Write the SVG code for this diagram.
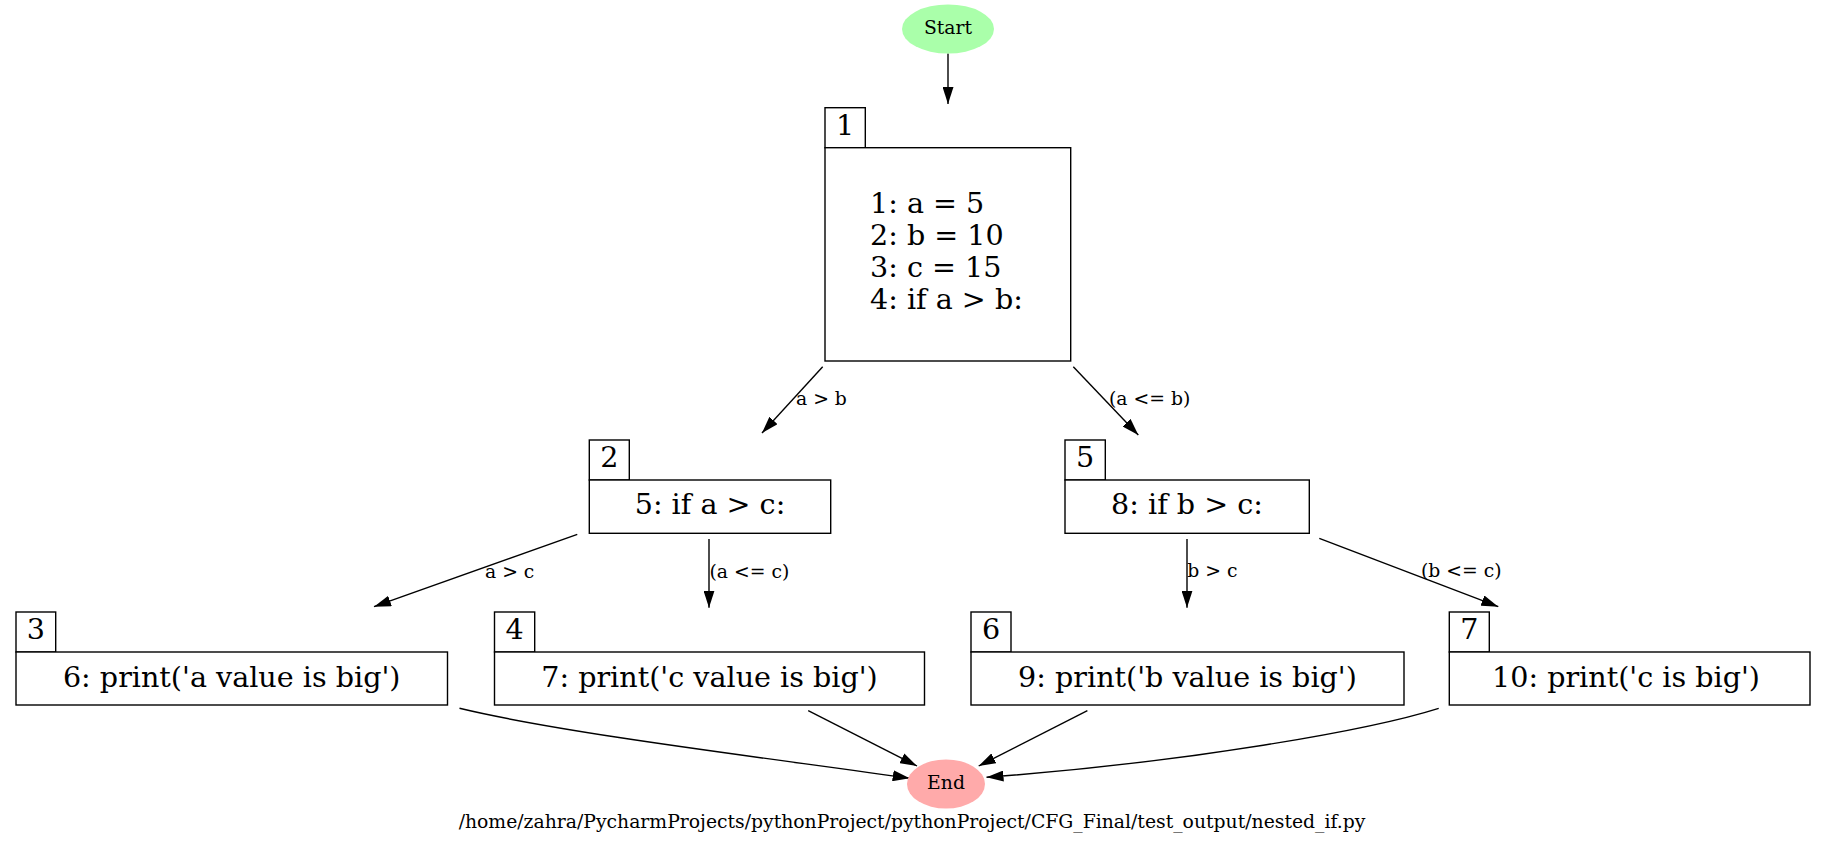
<svg xmlns="http://www.w3.org/2000/svg" width="1826" height="844" viewBox="0 0 1826 844">
<style>
text{font-family:"DejaVu Serif","Liberation Serif",serif;fill:#000}
.n{font-size:28.6px}
.s{font-size:18.8px}
.m{text-anchor:middle}
.b{fill:#fff;stroke:#000;stroke-width:1.4}
.e{fill:none;stroke:#000;stroke-width:1.4;marker-end:url(#ah)}
</style>
<defs>
<marker id="ah" markerUnits="userSpaceOnUse" viewBox="0 0 17 11" refX="17" refY="5.5" markerWidth="17" markerHeight="11" orient="auto">
<path d="M0,0 L17,5.5 L0,11 z" fill="#000"/>
</marker>
</defs>
<rect width="1826" height="844" fill="#fff"/>
<g id="edges">
<path class="e" d="M948,53.5 L948,104"/>
<path class="e" d="M822.7,366.7 L762,433"/>
<path class="e" d="M1073.3,366.7 L1138.3,435"/>
<path class="e" d="M577.3,534.3 L374,606.7"/>
<path class="e" d="M709,539 L709,607.7"/>
<path class="e" d="M1187,539 L1187,607.7"/>
<path class="e" d="M1319.3,538.3 L1498.3,606.7"/>
<path class="e" d="M459.5,708.3 C570,735 800,762 909.7,778.3"/>
<path class="e" d="M808.2,710.7 L917,766"/>
<path class="e" d="M1087.4,710.7 L978.7,766"/>
<path class="e" d="M1438.7,708.3 C1370,730 1190,762 986.5,777.3"/>
<text class="s" x="796" y="405">a &gt; b</text>
<text class="s" x="1109" y="405">(a &lt;= b)</text>
<text class="s" x="485" y="578">a &gt; c</text>
<text class="s" x="709.5" y="578">(a &lt;= c)</text>
<text class="s" x="1187.3" y="577">b &gt; c</text>
<text class="s" x="1421" y="577">(b &lt;= c)</text>
</g>
<g id="start">
<ellipse cx="948" cy="29" rx="46" ry="24.5" fill="#aaffaa"/>
<text class="s m" x="948" y="33.5">Start</text>
</g>
<g id="node1">
<rect class="b" x="825" y="107.7" width="40.3" height="40"/>
<text class="n m" x="845.2" y="135">1</text>
<rect class="b" x="825" y="147.7" width="245.7" height="213.3"/>
<text class="n" x="870" y="213">1: a = 5</text>
<text class="n" x="870" y="245">2: b = 10</text>
<text class="n" x="870" y="277">3: c = 15</text>
<text class="n" x="870" y="309">4: if a &gt; b:</text>
</g>
<g id="node2">
<rect class="b" x="589.3" y="440" width="40" height="40"/>
<text class="n m" x="609.3" y="467.3">2</text>
<rect class="b" x="589.3" y="480" width="241.4" height="53.3"/>
<text class="n m" x="710" y="514.3">5: if a &gt; c:</text>
</g>
<g id="node5">
<rect class="b" x="1065" y="440" width="40.3" height="40"/>
<text class="n m" x="1085.2" y="467.3">5</text>
<rect class="b" x="1065" y="480" width="244.3" height="53.3"/>
<text class="n m" x="1187" y="514.3">8: if b &gt; c:</text>
</g>
<g id="node3">
<rect class="b" x="16" y="612" width="39.7" height="40"/>
<text class="n m" x="35.9" y="639.3">3</text>
<rect class="b" x="16" y="652" width="431.5" height="53"/>
<text class="n m" x="231.7" y="686.7">6: print('a value is big')</text>
</g>
<g id="node4">
<rect class="b" x="494.5" y="612" width="40.2" height="40"/>
<text class="n m" x="514.6" y="639.3">4</text>
<rect class="b" x="494.5" y="652" width="430" height="53"/>
<text class="n m" x="709.5" y="686.7">7: print('c value is big')</text>
</g>
<g id="node6">
<rect class="b" x="971" y="612" width="40" height="40"/>
<text class="n m" x="991" y="639.3">6</text>
<rect class="b" x="971" y="652" width="433" height="53"/>
<text class="n m" x="1187.5" y="686.7">9: print('b value is big')</text>
</g>
<g id="node7">
<rect class="b" x="1449.3" y="612" width="40" height="40"/>
<text class="n m" x="1469.3" y="639.3">7</text>
<rect class="b" x="1449.3" y="652" width="360.7" height="53"/>
<text class="n m" x="1626" y="686.7">10: print('c is big')</text>
</g>
<g id="end">
<ellipse cx="946" cy="784" rx="39" ry="24.5" fill="#ffaaaa"/>
<text class="s m" x="946" y="789">End</text>
</g>
<text class="s m" x="912" y="828">/home/zahra/PycharmProjects/pythonProject/pythonProject/CFG_Final/test_output/nested_if.py</text>
</svg>
